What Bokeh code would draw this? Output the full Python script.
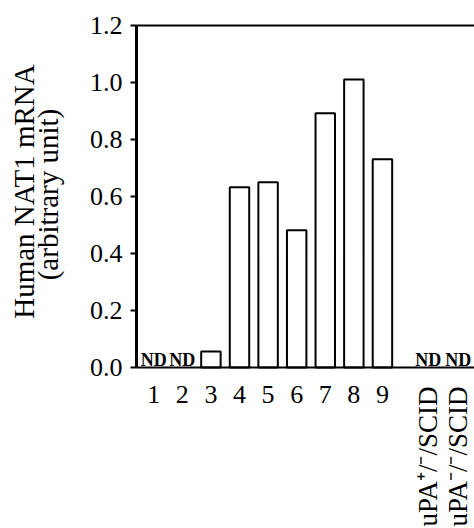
import math
from bokeh.plotting import figure
from bokeh.models import (ColumnDataSource, FixedTicker, LinearAxis,
                          PrintfTickFormatter, Range1d)
from bokeh.core.properties import value
from bokeh.embed import file_html
from bokeh.resources import INLINE

# ---- data ----
samples = ["1", "2", "3", "4", "5", "6", "7", "8", "9"]
sample_values = [None, None, 0.056, 0.633, 0.650, 0.482, 0.892, 1.011, 0.731]  # None = ND
controls = ["uPA\u207a/\u207b/SCID", "uPA\u207b/\u207b/SCID"]
control_values = [None, None]  # both ND
y_ticks = [0.0, 0.2, 0.4, 0.6, 0.8, 1.0, 1.2]
y_label_lines = ["Human NAT1 mRNA", "(arbitrary unit)"]
nd_text = "ND"

FONT = "Liberation Serif"

# layout of the category axis (gap before the control group)
sample_pos = [i + 1 for i in range(len(samples))]
control_pos = [len(samples) + 1.6 + 1.05 * j for j in range(len(controls))]
X_START, X_END = -4.36, 12.22     # frame spans the whole page width
Y_AXIS_AT = 0.4                   # where the value axis crosses the category axis
Y_LO, Y_HI = y_ticks[0], y_ticks[-1]
Y_VIEW = (-0.565, 1.288)          # frame spans the whole page height

all_pos = sample_pos + control_pos
all_vals = sample_values + control_values

bar_src = ColumnDataSource(dict(
    x=[p_ for p_, v in zip(all_pos, all_vals) if v is not None],
    top=[v for v in all_vals if v is not None],
))
nd_src = ColumnDataSource(dict(
    x=[p_ for p_, v in zip(all_pos, all_vals) if v is None],
    y=[0.0 for v in all_vals if v is None],
    t=[nd_text for v in all_vals if v is None],
))
ctl_src = ColumnDataSource(dict(
    x=control_pos,
    y=[0.0 for _ in controls],
    t=controls,
))
ylab_src = ColumnDataSource(dict(
    x=[Y_AXIS_AT] * len(y_label_lines),
    y=[(Y_LO + Y_HI) / 2] * len(y_label_lines),
    t=y_label_lines,
    xo=[-113, -89],
    yo=[-5, -2],
))

p = figure(width=474, height=528, output_backend="svg", toolbar_location=None,
           x_range=Range1d(X_START, X_END), y_range=Range1d(*Y_VIEW),
           min_border_left=0, min_border_right=0, min_border_top=0,
           min_border_bottom=0)
p.outline_line_color = None
p.xgrid.visible = False
p.ygrid.visible = False
p.background_fill_color = "white"
p.border_fill_color = "white"

p.vbar(x="x", top="top", bottom=0, width=0.68, source=bar_src,
       fill_color="white", line_color="black", line_width=2)

p.text(x="x", y="y", text="t", source=nd_src, text_font=value(FONT),
       text_font_size="18px", text_font_style="bold", text_align="center",
       text_baseline="alphabetic", y_offset=-8, text_color="black")

# control-group labels, vertical, hanging below the axis
p.text(x="x", y="y", text="t", source=ctl_src, text_font=value(FONT),
       text_font_size="27px", angle=math.pi / 2, text_align="right",
       text_baseline="middle", y_offset=19, text_color="black")

# value-axis title (two lines)
p.text(x="x", y="y", text="t", source=ylab_src, text_font=value(FONT),
       text_font_size="29px", angle=math.pi / 2, text_align="center",
       text_baseline="alphabetic", x_offset="xo", y_offset="yo",
       text_color="black")

# y axis
ya = p.yaxis[0]
ya.fixed_location = Y_AXIS_AT
ya.ticker = FixedTicker(ticks=y_ticks)
ya.bounds = (Y_LO, Y_HI)
ya.formatter = PrintfTickFormatter(format="%.1f")
ya.minor_tick_line_color = None
ya.major_tick_in = 0
ya.major_tick_out = 6
ya.major_tick_line_width = 2
ya.axis_line_width = 3
ya.major_label_text_font = FONT
ya.major_label_text_font_size = "26px"
ya.major_label_text_color = "black"
ya.major_label_standoff = 8

# x axis, drawn at y = 0
xa = p.xaxis[0]
xa.fixed_location = 0
xa.bounds = (Y_AXIS_AT, X_END)
xa.ticker = FixedTicker(ticks=sample_pos)
xa.major_label_overrides = {pos: lab for pos, lab in zip(sample_pos, samples)}
xa.major_tick_line_color = None
xa.minor_tick_line_color = None
xa.axis_line_width = 2
xa.major_label_text_font = FONT
xa.major_label_text_font_size = "26px"
xa.major_label_text_color = "black"
xa.major_label_standoff = 12

# top frame line at y = 1.2
top = LinearAxis(ticker=FixedTicker(ticks=[]), major_label_text_font_size="0px",
                 fixed_location=Y_HI, bounds=(Y_AXIS_AT, X_END),
                 axis_line_width=2, major_tick_line_color=None,
                 minor_tick_line_color=None)
p.add_layout(top, "above")

open("out.html", "w").write(file_html(p, INLINE))
